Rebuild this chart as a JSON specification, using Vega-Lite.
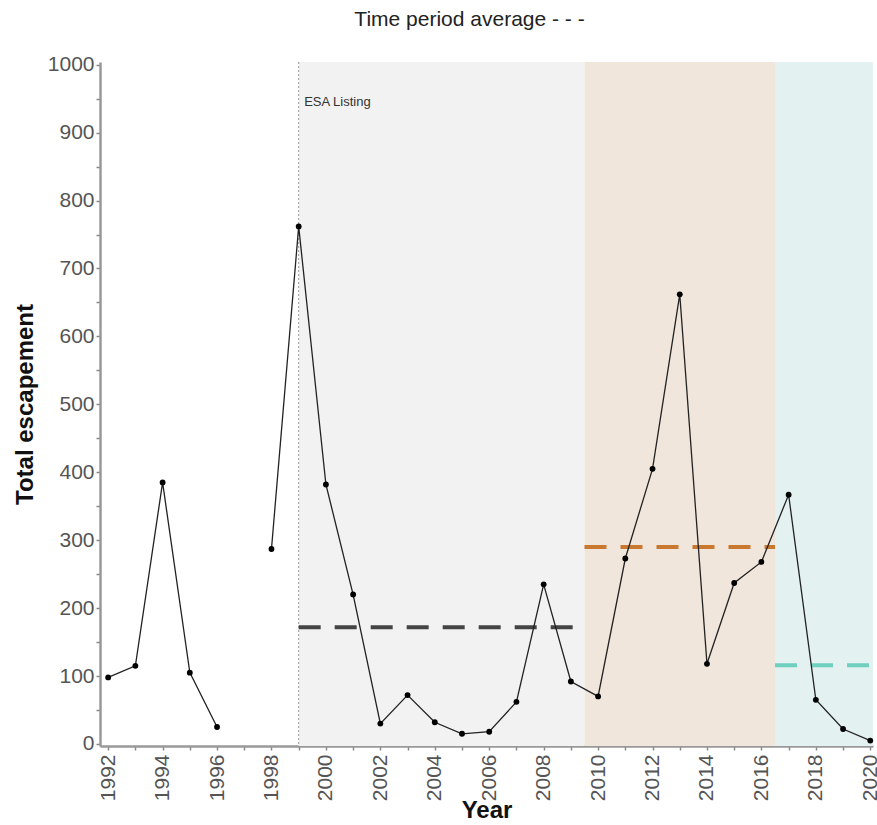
{
  "$schema": "https://vega.github.io/schema/vega-lite/v6.json",
  "width": 773,
  "height": 684,
  "autosize": {"type": "none"},
  "padding": {"left": 100, "top": 62, "right": 4, "bottom": 79},
  "background": "white",
  "title": {
    "text": "Time period average  - - -",
    "fontSize": 21,
    "fontWeight": "normal",
    "font": "Liberation Sans",
    "color": "#222",
    "anchor": "middle",
    "dx": -17,
    "offset": 24
  },
  "config": {
    "view": {"stroke": null},
    "font": "Liberation Sans"
  },
  "datasets": {
    "periods": [
      {"start": 1999, "end": 2009.5, "period": "A", "avg": 172},
      {"start": 2009.5, "end": 2016.5, "period": "B", "avg": 290},
      {"start": 2016.5, "end": 2020.1, "period": "C", "avg": 116}
    ],
    "esc": [
      {"year": 1992, "value": 98, "seg": "a"},
      {"year": 1993, "value": 115, "seg": "a"},
      {"year": 1994, "value": 385, "seg": "a"},
      {"year": 1995, "value": 105, "seg": "a"},
      {"year": 1996, "value": 25, "seg": "a"},
      {"year": 1998, "value": 287, "seg": "b"},
      {"year": 1999, "value": 762, "seg": "b"},
      {"year": 2000, "value": 382, "seg": "b"},
      {"year": 2001, "value": 220, "seg": "b"},
      {"year": 2002, "value": 30, "seg": "b"},
      {"year": 2003, "value": 72, "seg": "b"},
      {"year": 2004, "value": 32, "seg": "b"},
      {"year": 2005, "value": 15, "seg": "b"},
      {"year": 2006, "value": 18, "seg": "b"},
      {"year": 2007, "value": 62, "seg": "b"},
      {"year": 2008, "value": 235, "seg": "b"},
      {"year": 2009, "value": 92, "seg": "b"},
      {"year": 2010, "value": 70, "seg": "b"},
      {"year": 2011, "value": 273, "seg": "b"},
      {"year": 2012, "value": 405, "seg": "b"},
      {"year": 2013, "value": 662, "seg": "b"},
      {"year": 2014, "value": 118, "seg": "b"},
      {"year": 2015, "value": 237, "seg": "b"},
      {"year": 2016, "value": 268, "seg": "b"},
      {"year": 2017, "value": 367, "seg": "b"},
      {"year": 2018, "value": 65, "seg": "b"},
      {"year": 2019, "value": 22, "seg": "b"},
      {"year": 2020, "value": 5, "seg": "b"}
    ]
  },
  "encoding": {
    "x": {
      "type": "quantitative",
      "scale": {"domain": [1991.7, 2020.1], "nice": false, "zero": false},
      "axis": {
        "title": "Year",
        "titleFontSize": 24,
        "titleFontWeight": "bold",
        "titleColor": "#111",
        "titlePadding": -2,
        "values": [1992,1993,1994,1995,1996,1997,1998,1999,2000,2001,2002,2003,2004,2005,2006,2007,2008,2009,2010,2011,2012,2013,2014,2015,2016,2017,2018,2019,2020],
        "labelExpr": "datum.value % 2 == 0 ? datum.value : ''",
        "format": "d",
        "labelAngle": -90,
        "labelAlign": "right",
        "labelBaseline": "middle",
        "labelFontSize": 21,
        "labelColor": "#555",
        "labelPadding": 4,
        "labelOverlap": false,
        "labelFlush": false,
        "tickColor": "#888",
        "tickSize": 4,
        "tickWidth": 1.5,
        "domainColor": "#999",
        "domainWidth": 2.5,
        "grid": false
      }
    },
    "y": {
      "type": "quantitative",
      "scale": {"domain": [-3, 1004], "nice": false, "zero": false},
      "axis": {
        "title": "Total escapement",
        "titleFontSize": 24,
        "titleFontWeight": "bold",
        "titleColor": "#111",
        "titlePadding": 10,
        "values": [0,50,100,150,200,250,300,350,400,450,500,550,600,650,700,750,800,850,900,950,1000],
        "labelExpr": "datum.value % 100 == 0 ? datum.value : ''",
        "labelFontSize": 21,
        "labelColor": "#555",
        "labelPadding": 2,
        "labelOverlap": false,
        "labelFlush": false,
        "tickColor": "#888",
        "tickSize": 4,
        "tickWidth": 1.5,
        "domainColor": "#999",
        "domainWidth": 2.5,
        "grid": false
      }
    }
  },
  "layer": [
    {
      "data": {"name": "periods"},
      "mark": {"type": "rect"},
      "encoding": {
        "x": {"field": "start"},
        "x2": {"field": "end"},
        "color": {
          "field": "period",
          "type": "nominal",
          "scale": {"domain": ["A", "B", "C"], "range": ["#f2f2f2", "#f1e6dc", "#e3f1f1"]},
          "legend": null
        }
      }
    },
    {
      "data": {"values": [{"x": 1999}]},
      "mark": {"type": "rule", "color": "#999", "strokeDash": [2, 2], "strokeWidth": 1},
      "encoding": {"x": {"field": "x"}}
    },
    {
      "data": {"values": [{"x": 1999.2, "y": 945, "label": "ESA Listing"}]},
      "mark": {"type": "text", "align": "left", "baseline": "middle", "fontSize": 13, "color": "#333"},
      "encoding": {"x": {"field": "x"}, "y": {"field": "y"}, "text": {"field": "label"}}
    },
    {
      "data": {"name": "periods"},
      "mark": {"type": "rule", "strokeWidth": 4, "strokeDash": [22, 14]},
      "encoding": {
        "x": {"field": "start"},
        "x2": {"field": "end"},
        "y": {"field": "avg"},
        "color": {
          "field": "period",
          "type": "nominal",
          "scale": {"domain": ["A", "B", "C"], "range": ["#444444", "#c8782f", "#70d0c0"]},
          "legend": null
        }
      }
    },
    {
      "data": {"name": "esc"},
      "mark": {"type": "line", "color": "#222", "strokeWidth": 1.3},
      "encoding": {
        "x": {"field": "year"},
        "y": {"field": "value"},
        "detail": {"field": "seg"}
      }
    },
    {
      "data": {"name": "esc"},
      "mark": {"type": "point", "filled": true, "color": "#000", "size": 34, "opacity": 1},
      "encoding": {
        "x": {"field": "year"},
        "y": {"field": "value"}
      }
    }
  ],
  "resolve": {"scale": {"color": "independent"}}
}
